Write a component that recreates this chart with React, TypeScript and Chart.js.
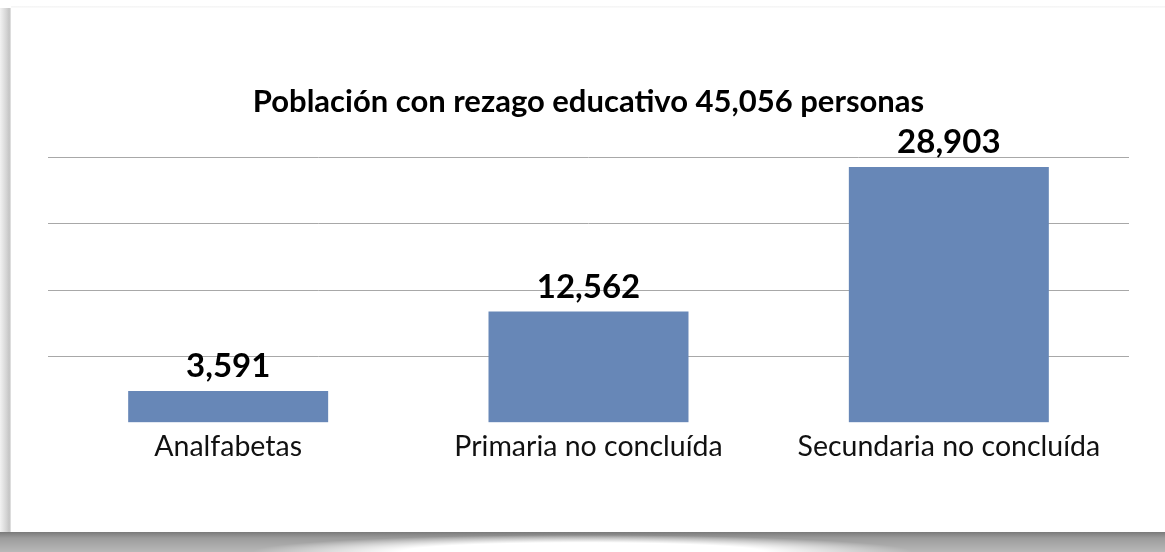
import React, { useEffect, useRef } from "react";
import { Chart, registerables } from "chart.js";

Chart.register(...registerables);

const categories = ["Analfabetas", "Primaria no concluída", "Secundaria no concluída"];
const values = [3591, 12562, 28903];
const titleText = "Población con rezago educativo 45,056 personas";
const yMax = 30000;
const yStep = 7500;

const FONT = "Lato, 'Noto Sans', sans-serif";

const valueLabels = {
  id: "valueLabels",
  afterDatasetsDraw(chart: any) {
    const ctx = chart.ctx;
    const meta = chart.getDatasetMeta(0);
    ctx.save();
    ctx.font = `bold 33px ${FONT}`;
    ctx.fillStyle = "#000";
    ctx.textAlign = "center";
    ctx.textBaseline = "alphabetic";
    meta.data.forEach((bar: any, i: number) => {
      const v = chart.data.datasets[0].data[i] as number;
      ctx.fillText(v.toLocaleString("en-US"), bar.x, bar.y - 14);
    });
    ctx.restore();
  },
};

export default function App() {
  const ref = useRef<HTMLCanvasElement>(null);
  useEffect(() => {
    if (!ref.current) return;
    const chart = new Chart(ref.current, {
      type: "bar",
      data: {
        labels: categories,
        datasets: [
          {
            data: values,
            backgroundColor: "#6787B7",
            borderWidth: 0,
            barPercentage: 1,
            categoryPercentage: 0.555,
          },
        ],
      },
      options: {
        responsive: false,
        animation: false,
        layout: { padding: { left: 48, right: 36, top: 0, bottom: 81 } },
        plugins: {
          legend: { display: false },
          tooltip: { enabled: false },
          title: {
            display: true,
            text: titleText,
            color: "#000",
            font: { family: FONT, size: 31, weight: "bold", lineHeight: 1.2 },
            padding: { top: 83, bottom: 37 },
          },
        },
        scales: {
          x: {
            grid: { display: false, drawTicks: false },
            border: { display: false },
            ticks: {
              color: "#111",
              padding: 7,
              font: { family: FONT, size: 28.5, lineHeight: 1.2 },
            },
          },
          y: {
            min: 0,
            max: yMax,
            grid: {
              drawTicks: false,
              color: (c: any) => (c.tick && c.tick.value === 0 ? "rgba(0,0,0,0)" : "#a8a8a8"),
              lineWidth: 1,
            },
            border: { display: false },
            ticks: { display: false, stepSize: yStep },
          },
        },
      },
      plugins: [valueLabels],
    });
    return () => chart.destroy();
  }, []);

  return (
    <div
      style={{
        position: "fixed",
        left: 0,
        top: 0,
        width: 1165,
        height: 552,
        background: "#fff",
        overflow: "hidden",
      }}
    >
      <div
        style={{
          position: "absolute",
          left: 0,
          top: 8,
          width: 11,
          height: 526,
          background: "linear-gradient(to right, #f2f2f2 0%, #d6d6d6 55%, #c4c4c4 85%, #e8e8e8 100%)",
        }}
      />
      <div
        style={{
          position: "absolute",
          left: 11,
          top: 6,
          width: 1154,
          height: 2,
          background: "linear-gradient(to bottom, #f4f4f4, #fbfbfb)",
        }}
      />
      <div
        style={{
          position: "absolute",
          left: 0,
          top: 532,
          width: 1165,
          height: 20,
          background:
            "radial-gradient(ellipse 330px 17px at 50% 100%, #ffffff 55%, rgba(255,255,255,0) 100%), linear-gradient(to bottom, #7a7a7a 0%, #9c9c9c 30%, #b8b8b8 100%)",
        }}
      />
      <canvas
        ref={ref}
        width={1165}
        height={552}
        style={{ position: "absolute", left: 0, top: 0 }}
      />
    </div>
  );
}
